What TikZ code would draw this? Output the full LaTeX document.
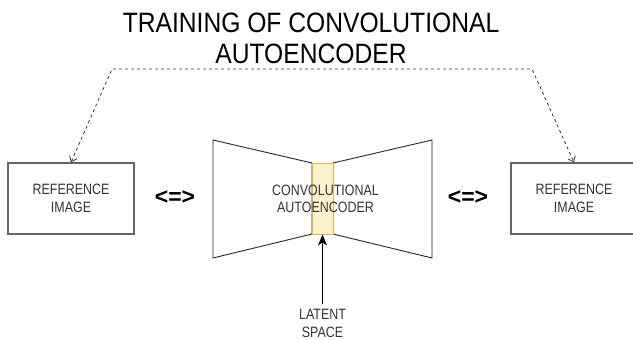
\documentclass[tikz,border=0pt]{standalone}
\usepackage{fontspec}
\setmainfont[FakeStretch=0.83]{Liberation Sans}
\newfontfamily\titlefont[FakeStretch=0.88]{Liberation Sans}
\newfontfamily\symfont{Liberation Sans}
\usetikzlibrary{arrows.meta}
\definecolor{txtgray}{HTML}{333333}
\definecolor{boxgray}{HTML}{666666}
\definecolor{latfill}{HTML}{FFF2CC}
\definecolor{latdraw}{HTML}{D6B656}
\tikzset{
  refbox/.style={draw=boxgray, line width=1.3pt, minimum width=126pt, minimum height=71pt, inner sep=0pt, fill=white},
  lbl/.style={text=txtgray, align=center, inner sep=0pt, font=\fontsize{15}{17.5}\selectfont},
  eqv/.style={inner sep=0pt, font=\symfont\bfseries\fontsize{23}{26}\selectfont},
  latent/.style={draw=latdraw, fill=latfill, line width=0.8pt, minimum width=21pt, minimum height=71pt, inner sep=0pt},
  bow/.style={draw=black!85, line width=0.9pt, fill=white},
  dashconn/.style={draw=black!80, line width=0.8pt, dash pattern=on 3pt off 3pt, {Straight Barb[length=5pt,width=8pt]}-{Straight Barb[length=5pt,width=8pt]}},
  latarrow/.style={draw=black, line width=1pt, -{Stealth[length=11pt,width=9pt,inset=3pt]}}
}
\begin{document}
\begin{tikzpicture}[x=1pt,y=-1pt]
\useasboundingbox (0,0) rectangle (633,340);
% title
\node[align=center, inner sep=0pt, font=\titlefont\fontsize{28}{31}\selectfont] (title) at (311,38.5) {TRAINING OF CONVOLUTIONAL\\AUTOENCODER};
% boxes
\node[refbox] (lref) at (71,198.5) {};
\node[lbl] (lreft) at (lref.center) {REFERENCE\\IMAGE};
\node[refbox] (rref) at (574,198.5) {};
\node[lbl] (rreft) at (rref.center) {REFERENCE\\IMAGE};
% bowtie
\draw[bow] (213,140) -- (312,163) -- (312,234) -- (213,258) -- cycle;
\draw[bow] (333,163) -- (432,140) -- (432,258) -- (333,234) -- cycle;
\node[latent] (lat) at (322.5,198.5) {};
\node[lbl] (cae) at (325.5,199) {CONVOLUTIONAL\\AUTOENCODER};
% equivalences
\node[eqv] (eq1) at (175,198) {<=>};
\node[eqv] (eq2) at (468,198) {<=>};
% latent label and arrow
\node[lbl] (latt) at (322.5,323.5) {LATENT\\SPACE};
\coordinate (lstart) at (322.5,304);
\draw[latarrow] (lstart) -- (lat.south);
% dashed connector
\coordinate (c1) at (112,69);
\coordinate (c2) at (532,69);
\draw[dashconn] (lref.north) -- (c1) -- (c2) -- (rref.north);
\end{tikzpicture}
\end{document}
